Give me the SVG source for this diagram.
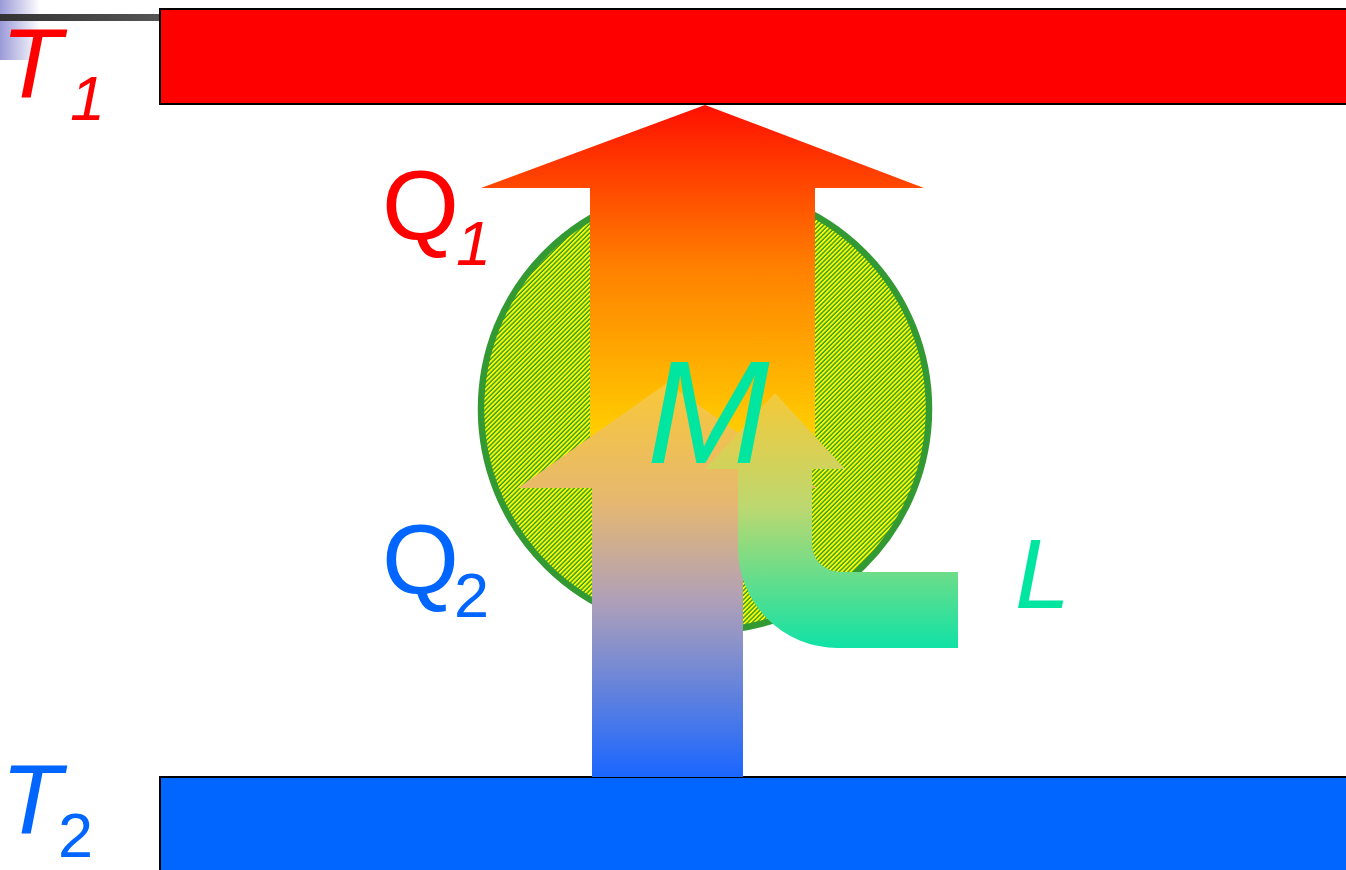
<svg xmlns="http://www.w3.org/2000/svg" width="1346" height="870" viewBox="0 0 1346 870">
<defs>
<linearGradient id="gBlueFade" x1="0" y1="0" x2="1" y2="0">
<stop offset="0" stop-color="#9a9ad8"/><stop offset="1" stop-color="#ffffff"/>
</linearGradient>
<linearGradient id="gGray" x1="0" y1="0" x2="1" y2="0">
<stop offset="0" stop-color="#333333"/><stop offset="1" stop-color="#555555"/>
</linearGradient>
<pattern id="hatch" width="3.2" height="10" patternUnits="userSpaceOnUse" patternTransform="rotate(45)">
<rect x="0" y="0" width="3.2" height="10" fill="#2f9a2a"/>
<rect x="0" y="0" width="1.8" height="10" fill="#ffff00"/>
</pattern>
<linearGradient id="gQ1" gradientUnits="userSpaceOnUse" x1="0" y1="105" x2="0" y2="430">
<stop offset="0" stop-color="#ff1000"/><stop offset="0.5" stop-color="#ff8000"/><stop offset="1" stop-color="#ffcc00"/>
</linearGradient>
<linearGradient id="gQ2" gradientUnits="userSpaceOnUse" x1="0" y1="383" x2="0" y2="777">
<stop offset="0" stop-color="#f8c838"/><stop offset="0.3" stop-color="#e6b870"/><stop offset="0.55" stop-color="#b0a0b8"/><stop offset="1" stop-color="#1a66ff"/>
</linearGradient>
<linearGradient id="gL" gradientUnits="userSpaceOnUse" x1="0" y1="393" x2="0" y2="648">
<stop offset="0" stop-color="#f5c838"/><stop offset="0.45" stop-color="#bcd870"/><stop offset="1" stop-color="#10e2a6"/>
</linearGradient>
<style>
.lbl{font-family:"Liberation Sans",Arial,sans-serif;}
.it{font-style:italic;}
.red{fill:#ff0000;}
.blue{fill:#0066ff;}
.grn{fill:#00e6a0;}
.big{font-size:99px;}
.sub{font-size:63px;}
</style>
</defs>

<g id="corner">
<rect x="0" y="0" width="40" height="60" fill="url(#gBlueFade)"/>
<rect x="0" y="14" width="160" height="7" fill="url(#gGray)"/>
</g>

<g id="reservoir-T1">
<rect x="160" y="9" width="1200" height="95" fill="#ff0000" stroke="#000" stroke-width="2"/>
</g>
<g id="reservoir-T2">
<rect x="160" y="777" width="1200" height="110" fill="#0066ff" stroke="#000" stroke-width="2"/>
</g>

<g id="machine">
<ellipse cx="705" cy="409" rx="224" ry="222" fill="url(#hatch)" stroke="#339933" stroke-width="6.5"/>
</g>

<g id="connectors">
<polygon id="arrow-Q1" points="705,105 924,188 815,188 815,469 590,469 590,188 481,188" fill="url(#gQ1)"/>
<polygon id="arrow-Q2" points="667,383 817,488 743,488 743,777 592,777 592,488 518,488" fill="url(#gQ2)"/>
<path id="arrow-L" d="M958 572 L840 572 A28 28 0 0 1 812 544 L812 469 L845 469 L775 393 L705 469 L738 469 L738 548 A100 100 0 0 0 838 648 L958 648 Z" fill="url(#gL)"/>
</g>

<g id="labels">
<text class="lbl it red big" x="1" y="97">T</text>
<text class="lbl it red sub" x="70" y="120">1</text>
<text class="lbl it blue big" x="1" y="833">T</text>
<text class="lbl blue sub" x="58" y="857">2</text>
<text class="lbl red big" x="382" y="239">Q</text>
<text class="lbl it red sub" x="456" y="265">1</text>
<text class="lbl blue big" x="382" y="593">Q</text>
<text class="lbl blue sub" x="454" y="617">2</text>
<text class="lbl it grn" x="647" y="463" font-size="147">M</text>
<text class="lbl it grn big" x="1015" y="608">L</text>
</g>
</svg>
